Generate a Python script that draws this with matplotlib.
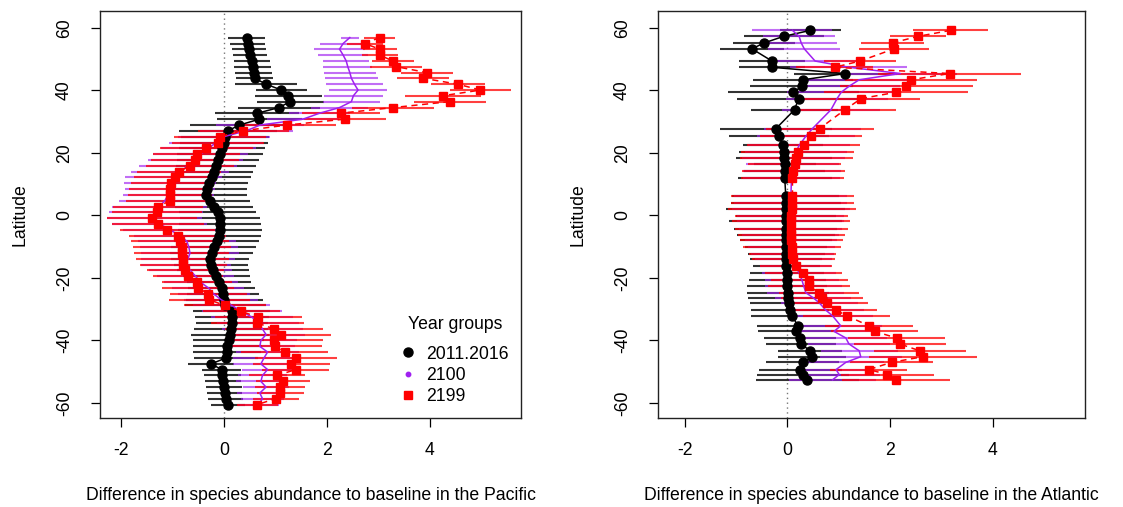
import numpy as np
import matplotlib
matplotlib.use("Agg")
import matplotlib.pyplot as plt
from matplotlib.lines import Line2D

plt.rcParams["font.family"] = ["Liberation Sans", "DejaVu Sans"]
plt.rcParams["axes.unicode_minus"] = False

# ---- Pacific ----
lat_pac = [56.9, 55.0, 53.2, 51.3, 49.4, 47.6, 45.7, 43.9, 42.0, 40.1, 38.3, 36.4, 34.5, 32.7, 30.8, 28.9,
           27.1, 25.2, 23.3, 21.5, 19.6, 17.8, 15.9, 14.0, 12.2, 10.3, 8.4, 6.6, 4.7, 2.8, 1.0, -0.9,
           -2.7, -4.6, -6.5, -8.3, -10.2, -12.1, -13.9, -15.8, -17.6, -19.5, -21.4, -23.2, -25.1, -27.0,
           -28.8, -30.7, -32.6, -34.4, -36.3, -38.1, -40.0, -41.9, -43.7, -45.6, -47.5, -49.3, -51.2,
           -53.1, -54.9, -56.8, -58.6, -60.5]
now_pac = [0.44, 0.46, 0.48, 0.51, 0.54, 0.56, 0.58, 0.60, 0.82, 1.12, 1.25, 1.29, 1.07, 0.65, 0.69, 0.30,
           0.08, 0.02, 0.00, -0.04, -0.08, -0.11, -0.15, -0.20, -0.24, -0.29, -0.32, -0.34, -0.27, -0.19, -0.12, -0.08,
           -0.07, -0.08, -0.10, -0.14, -0.20, -0.24, -0.27, -0.26, -0.21, -0.15, -0.09, -0.04, -0.01, 0.01,
           0.03, 0.15, 0.16, 0.15, 0.13, 0.12, 0.09, 0.07, 0.06, 0.04, -0.25, -0.04, -0.03,
           -0.01, 0.00, 0.02, 0.04, 0.08]
now_pac_err = [0.36, 0.34, 0.33, 0.33, 0.35, 0.36, 0.36, 0.36, 0.60, 0.50, 0.65, 0.65, 0.80, 0.82, 0.82, 0.95,
               0.95, 0.85, 0.85, 0.84, 0.84, 0.80, 0.78, 0.76, 0.76, 0.76, 0.76, 0.78, 0.78, 0.76, 0.75, 0.78,
               0.80, 0.82, 0.83, 0.83, 0.83, 0.80, 0.75, 0.72, 0.70, 0.65, 0.62, 0.65, 0.70, 0.75,
               0.78, 0.75, 0.72, 0.70, 0.72, 0.75, 0.70, 0.68, 0.66, 0.62, 0.45, 0.38, 0.36,
               0.35, 0.35, 0.34, 0.34, 0.33]
mid_pac = [2.45, 2.32, 2.25, 2.32, 2.38, 2.41, 2.45, 2.48, 2.54, 2.61, 2.52, 2.48, 2.25, 1.86, 1.54, 0.70,
           0.44, 0.00, -0.15, -0.30, -0.45, -0.55, -0.70, -0.85, -0.98, -1.05, -1.05, -1.08, -1.15, -1.25, -1.32, -1.35,
           -1.25, -1.05, -0.85, -0.72, -0.68, -0.66, -0.70, -0.74, -0.65, -0.55, -0.45, -0.30, -0.20, -0.05,
           0.15, 0.35, 0.55, 0.67, 0.75, 0.82, 0.72, 0.70, 0.85, 0.78, 0.72, 0.85, 0.75,
           0.72, 0.82, 0.70, 0.75, 0.68]
mid_pac_err = [0.18, 0.45, 0.50, 0.48, 0.45, 0.48, 0.50, 0.52, 0.55, 0.56, 0.58, 0.56, 0.55, 0.60, 0.70, 0.85,
               0.90, 0.90, 0.92, 0.92, 0.92, 0.92, 0.95, 0.95, 0.95, 0.90, 0.88, 0.88, 0.90, 0.92, 0.92, 0.92,
               0.92, 0.92, 0.90, 0.95, 0.95, 0.95, 0.92, 0.88, 0.80, 0.75, 0.72, 0.70, 0.70, 0.72,
               0.75, 0.78, 0.80, 0.80, 0.78, 0.75, 0.70, 0.68, 0.62, 0.60, 0.55, 0.50, 0.48,
               0.48, 0.45, 0.45, 0.42, 0.40]
end_pac = [3.03, 2.74, 3.03, 3.03, 3.29, 3.35, 3.95, 3.87, 4.55, 4.99, 4.26, 4.39, 3.29, 2.27, 2.35, 1.22,
           0.38, -0.08, -0.11, -0.34, -0.53, -0.56, -0.66, -0.87, -0.95, -1.02, -1.05, -1.05, -1.05, -1.28, -1.30, -1.40,
           -1.28, -1.10, -0.90, -0.85, -0.82, -0.82, -0.80, -0.79, -0.75, -0.69, -0.53, -0.50, -0.30, -0.28,
           0.02, 0.34, 0.67, 0.65, 0.97, 1.12, 0.97, 0.99, 1.18, 1.41, 1.31, 1.40, 1.03,
           1.15, 1.09, 1.10, 1.01, 0.65]
end_pac_err = [0.30, 0.35, 0.33, 0.35, 0.40, 0.50, 0.50, 0.50, 0.52, 0.60, 0.74, 0.70, 0.80, 0.76, 0.80, 0.97,
               0.88, 0.90, 0.90, 0.90, 0.85, 0.85, 0.85, 0.82, 0.80, 0.78, 0.80, 0.82, 0.85, 0.87, 0.87, 0.87,
               0.90, 0.92, 0.95, 0.95, 0.95, 0.92, 0.90, 0.85, 0.75, 0.68, 0.68, 0.70, 0.75, 0.78,
               0.80, 0.75, 0.85, 0.90, 0.95, 0.97, 0.95, 0.92, 0.85, 0.80, 0.75, 0.65, 0.55,
               0.52, 0.48, 0.45, 0.45, 0.40]

# ---- Atlantic ----
lat_atl = [59.2, 57.3, 55.2, 53.3, 49.4, 47.4, 45.4, 43.4, 41.3, 39.4, 37.4, 33.8, 27.8, 25.3, 22.4, 20.4,
           18.5, 16.4, 14.3, 11.9, 6.1, 4.1, 2.2, -0.2, -1.8, -4.2, -6.1, -8.0, -10.1, -12.2, -14.0, -16.2,
           -18.4, -20.5, -22.6, -24.7, -26.3, -27.9, -30.3, -32.1, -35.3, -37.1, -39.2, -41.1, -43.3, -45.2,
           -47.0, -49.3, -50.9, -52.6]
now_atl = [0.45, -0.07, -0.45, -0.69, -0.30, -0.30, 1.13, 0.31, 0.28, 0.12, 0.22, 0.14, -0.22, -0.16, -0.09, -0.06,
           -0.06, -0.05, -0.05, -0.05, -0.03, -0.03, -0.03, -0.03, -0.03, -0.03, -0.03, -0.03, -0.03, -0.02, -0.02, -0.02,
           -0.01, 0.00, 0.00, 0.01, 0.02, 0.03, 0.06, 0.10, 0.20, 0.17, 0.25, 0.27, 0.44, 0.48,
           0.30, 0.25, 0.30, 0.39]
now_atl_err = [0.60, 0.78, 0.60, 0.63, 0.65, 0.65, 1.00, 0.97, 1.00, 1.28, 1.20, 0.85, 1.10, 0.97, 0.78, 0.89,
               0.94, 0.60, 0.79, 0.92, 1.04, 1.07, 1.16, 0.97, 1.10, 1.00, 0.95, 0.90, 0.80, 0.75, 0.70, 0.65,
               0.72, 0.75, 0.78, 0.80, 0.78, 0.76, 0.76, 0.80, 0.80, 0.75, 0.70, 0.68, 0.63, 0.66,
               0.71, 0.81, 0.90, 1.00]
mid_atl = [0.10, 0.23, 0.27, 0.33, 0.54, 1.20, 2.20, 1.40, 1.20, 1.05, 0.97, 0.85, 0.49, 0.36, 0.23, 0.17,
           0.12, 0.10, 0.09, 0.08, 0.07, 0.07, 0.07, 0.06, 0.06, 0.06, 0.06, 0.07, 0.08, 0.10, 0.12, 0.16,
           0.23, 0.28, 0.32, 0.36, 0.50, 0.62, 0.75, 0.88, 1.04, 0.91, 1.14, 1.20, 1.40, 1.43,
           1.14, 0.95, 1.01, 0.88]
mid_atl_err = [0.78, 0.70, 0.70, 0.70, 0.80, 1.14, 1.10, 1.00, 1.00, 1.05, 1.00, 0.95, 0.95, 0.95, 1.00, 1.00,
               1.00, 0.90, 0.95, 0.95, 1.10, 1.10, 1.15, 1.05, 1.05, 1.00, 0.95, 0.90, 0.85, 0.80, 0.75, 0.70,
               0.72, 0.72, 0.75, 0.75, 0.75, 0.75, 0.75, 0.78, 0.80, 0.78, 0.80, 0.80, 0.75, 0.80,
               0.75, 0.70, 0.80, 0.85]
end_atl = [3.18, 2.55, 2.05, 2.08, 1.42, 0.92, 3.16, 2.41, 2.32, 2.12, 1.44, 1.12, 0.63, 0.46, 0.32, 0.20,
           0.17, 0.14, 0.12, 0.10, 0.10, 0.10, 0.09, 0.08, 0.08, 0.08, 0.08, 0.08, 0.09, 0.10, 0.12, 0.17,
           0.31, 0.43, 0.43, 0.61, 0.68, 0.77, 0.95, 1.16, 1.59, 1.70, 2.13, 2.19, 2.58, 2.64,
           2.03, 1.59, 1.95, 2.12]
end_atl_err = [0.73, 0.55, 0.62, 0.68, 0.70, 0.75, 1.40, 1.28, 1.30, 1.40, 1.15, 1.00, 1.05, 1.00, 1.10, 1.10,
               1.10, 0.90, 1.00, 1.00, 1.20, 1.20, 1.25, 1.10, 1.15, 1.10, 1.05, 1.00, 0.95, 0.85, 0.80, 0.70,
               0.75, 0.75, 0.80, 0.78, 0.80, 0.80, 0.80, 0.85, 0.85, 0.85, 0.95, 0.90, 0.90, 1.05,
               0.80, 0.75, 0.90, 1.05]

groups = ["2011.2016", "2100", "2199"]
col_now, col_mid, col_end = "black", "#A020F0", "#FF0000"
FS = 12.7


def draw_panel(ax, lat, now, now_err, mid, mid_err, end, end_err, xlim, ocean):
    ax.axvline(0, color="#777777", ls=(0, (1, 2.5)), lw=1.0, zorder=1)
    ax.errorbar(now, lat, xerr=now_err, fmt="none", ecolor=col_now, elinewidth=1.5, alpha=0.8, zorder=2)
    ax.errorbar(mid, lat, xerr=mid_err, fmt="none", ecolor=col_mid, elinewidth=1.5, alpha=0.65, zorder=3)
    ax.errorbar(end, lat, xerr=end_err, fmt="none", ecolor=col_end, elinewidth=1.5, alpha=0.75, zorder=4)
    ax.plot(now, lat, "-o", color=col_now, ms=6.5, lw=1.1, zorder=5)
    ax.plot(mid, lat, "-", color=col_mid, lw=1.1, zorder=6)
    ax.plot(end, lat, "s", ls=(0, (4, 3)), color=col_end, ms=5.8, lw=1.1, zorder=7)

    ax.set_xlim(*xlim)
    ax.set_ylim(-64.8, 65.4)
    ax.set_xticks([-2, 0, 2, 4])
    ax.set_yticks([-60, -40, -20, 0, 20, 40, 60])
    ax.tick_params(direction="out", length=6.5, width=0.9, labelsize=FS, pad=11)
    ax.tick_params(axis="y", pad=13)
    for lab in ax.get_yticklabels():
        lab.set_rotation(90)
        lab.set_va("center")
    for sp in ax.spines.values():
        sp.set_linewidth(1.0)
        sp.set_color("#222222")
    ax.set_ylabel("Latitude", fontsize=FS, labelpad=20)
    ax.set_xlabel("Difference in species abundance to baseline in the " + ocean, fontsize=FS, labelpad=20)


fig = plt.figure(figsize=(11.23, 5.07), dpi=100)
ax1 = fig.add_axes([100 / 1123, 1 - 418 / 507, 421 / 1123, 407 / 507])
ax2 = fig.add_axes([658 / 1123, 1 - 418 / 507, 427 / 1123, 407 / 507])

draw_panel(ax1, lat_pac, now_pac, now_pac_err, mid_pac, mid_pac_err, end_pac, end_pac_err,
           (-2.41, 5.78), "Pacific")
draw_panel(ax2, lat_atl, now_atl, now_atl_err, mid_atl, mid_atl_err, end_atl, end_atl_err,
           (-2.52, 5.80), "Atlantic")

handles = [
    Line2D([], [], ls="none", marker="o", color=col_now, ms=6.5),
    Line2D([], [], ls="none", marker="o", color=col_mid, ms=3.2),
    Line2D([], [], ls="none", marker="s", color=col_end, ms=5.8),
]
leg = ax1.legend(handles, groups, title="Year groups", loc="lower right", bbox_to_anchor=(0.995, 0.005),
                 frameon=False, fontsize=FS, title_fontsize=FS, handlelength=0.8, handletextpad=0.6,
                 labelspacing=0.25, borderaxespad=0.2)
# a little more room between the legend title and its entries
leg._legend_box.sep = 9

fig.savefig("out.png", dpi=100)
